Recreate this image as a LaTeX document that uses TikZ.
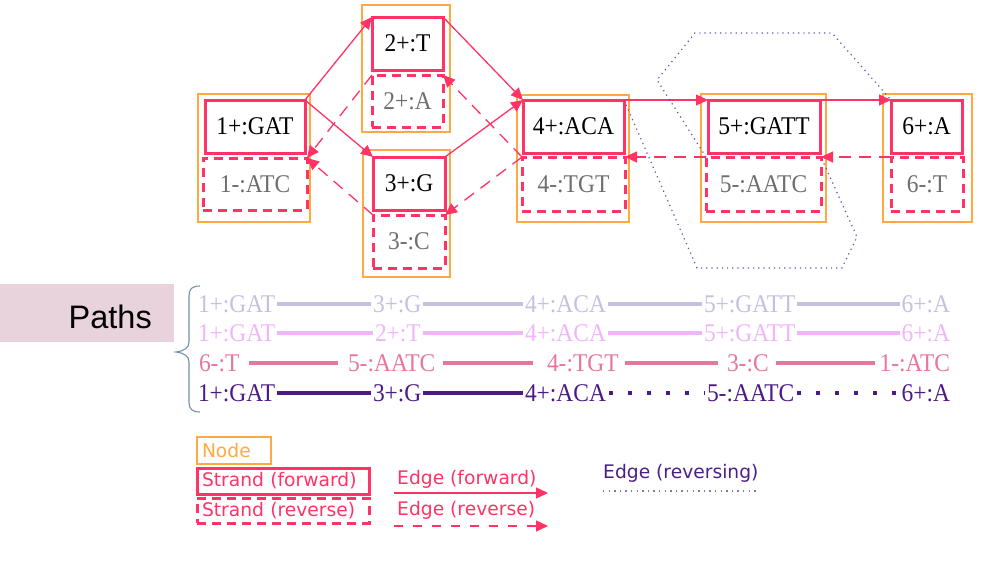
\documentclass[tikz,border=0pt]{standalone}
\usepackage{fontspec}
\setmainfont{Liberation Serif}[FakeStretch=0.92]
\newfontfamily\dejavu{DejaVu Sans}
\newfontfamily\arialf{Liberation Sans}
\usetikzlibrary{arrows.meta}
\definecolor{orng}{HTML}{FFA940}
\definecolor{pnk}{HTML}{FF3366}
\definecolor{grytxt}{HTML}{6E6E6E}
\definecolor{purp}{HTML}{6A4FB0}
\definecolor{purptxt}{HTML}{4B1F8A}
\definecolor{rowa}{HTML}{C5C0DF}
\definecolor{rowb}{HTML}{F0B5FA}
\definecolor{rowc}{HTML}{E8769A}
\definecolor{rowd}{HTML}{4B1A86}
\definecolor{pathbg}{HTML}{E8D3DC}
\definecolor{bracec}{HTML}{7090B0}
\begin{document}
\begin{tikzpicture}[x=1pt,y=-1pt,
  serif/.style={font=\fontsize{25.5}{30}\selectfont},
  leg/.style={font=\dejavu\fontsize{18.7}{22}\selectfont},
  grpbox/.style={draw=orng, line width=1.4pt, inner sep=0pt, outer sep=0pt},
  fwd/.style={draw=pnk, line width=3pt, inner sep=0pt, outer sep=0pt, serif, text=black},
  rev/.style={draw=pnk, line width=3pt, dash pattern=on 9pt off 6pt, inner sep=0pt, outer sep=0pt, serif, text=grytxt},
  fedge/.style={draw=pnk, line width=1.3pt, -{Triangle[length=12pt,width=11pt]}},
  redge/.style={fedge, dash pattern=on 12pt off 8pt},
  xedge/.style={draw=purp, line width=1.2pt, dash pattern=on 1.2pt off 4pt},
  rtxt/.style={serif, inner xsep=2pt, inner ysep=0pt, outer sep=0pt, anchor=base west},
  rtxtr/.style={serif, inner xsep=2pt, inner ysep=0pt, outer sep=0pt, anchor=base east},
  rline/.style={line width=4pt},
]
\useasboundingbox (0,0) rectangle (1002,562);

% group nodes
\node[grpbox, minimum width=112pt, minimum height=128pt] (n1) at (254,158) {};
\node[grpbox, minimum width=88pt, minimum height=127pt] (n2) at (406,68.5) {};
\node[grpbox, minimum width=87pt, minimum height=127pt] (n3) at (406.5,213.5) {};
\node[grpbox, minimum width=112pt, minimum height=127pt] (n4) at (573,158.5) {};
\node[grpbox, minimum width=125pt, minimum height=128pt] (n5) at (763.5,158) {};
\node[grpbox, minimum width=89pt, minimum height=128pt] (n6) at (927.5,158) {};

% strands
\node[fwd, minimum width=100pt, minimum height=53pt] (s1p) at (255,126.5) {1+:GAT};
\node[rev, minimum width=104pt, minimum height=52pt] (s1m) at (255,184) {1-:ATC};
\node[fwd, minimum width=71pt, minimum height=53pt] (s2p) at (407.5,43.5) {2+:T};
\node[rev, minimum width=71pt, minimum height=52pt] (s2m) at (407.5,101) {2+:A};
\node[fwd, minimum width=72pt, minimum height=53pt] (s3p) at (409,183.5) {3+:G};
\node[rev, minimum width=72pt, minimum height=53pt] (s3m) at (409,241.5) {3-:C};
\node[fwd, minimum width=101pt, minimum height=53pt] (s4p) at (573.5,126.5) {4+:ACA};
\node[rev, minimum width=103pt, minimum height=54pt] (s4m) at (573.5,184) {4-:TGT};
\node[fwd, minimum width=112pt, minimum height=53pt] (s5p) at (764,126.5) {5+:GATT};
\node[rev, minimum width=115pt, minimum height=54pt] (s5m) at (763.5,184) {5-:AATC};
\node[fwd, minimum width=71pt, minimum height=53pt] (s6p) at (926.5,126.5) {6+:A};
\node[rev, minimum width=72pt, minimum height=54pt] (s6m) at (927,184) {6-:T};

% forward edges
\draw[fedge] (s1p.north east) -- (s2p.north west);
\draw[fedge] (s1p.north east) -- (s3p.north west);
\draw[fedge] (s2p.north east) -- (s4p.north west);
\draw[fedge] (s3p.north east) -- (s4p.north west);
\draw[fedge] (s4p.north east) -- (s5p.north west);
\draw[fedge] (s5p.north east) -- (s6p.north west);

% reverse edges
\draw[redge] (s2m.north west) -- (s1m.north east);
\draw[redge] (s3m.north west) -- (s1m.north east);
\draw[redge] (s4m.north west) -- (s2m.north east);
\draw[redge] (s4m.north west) -- (s3m.north east);
\draw[redge] (s5m.north west) -- (s4m.north east);
\draw[redge] (s6m.north west) -- (s5m.north east);

% reversing edges
\draw[xedge] (s4p.north east) -- (697,268) -- (842,268) -- (857,237) -- (s5m.north east);
\draw[xedge] (s5m.north west) -- (657,80) -- (695,33) -- (832,33) -- (s6p.north west);

% Paths label
\node[fill=pathbg, minimum width=174pt, minimum height=58pt, inner sep=0pt, anchor=north west] (pbox) at (0,284) {};
\node[font=\arialf\fontsize{32.5}{36}\selectfont, inner sep=0pt, anchor=base east] (ptxt) at (152,328) {Paths};
\draw[bracec, line width=1.1pt] (200,286) .. controls (192,286) and (189,289) .. (189,296) -- (189,342)
  .. controls (189,348) and (184,351) .. (176,352) .. controls (184,353) and (189,356) .. (189,362)
  -- (189,402) .. controls (189,409) and (192,412) .. (200,412);

% row 1
\begin{scope}[text=rowa]
\node[rtxt] (a1) at (196,312) {1+:GAT};
\node[rtxt] (a2) at (371,312) {3+:G};
\node[rtxt] (a3) at (523,312) {4+:ACA};
\node[rtxt] (a4) at (702,312) {5+:GATT};
\node[rtxtr] (a5) at (952,312) {6+:A};
\end{scope}
\draw[rline, rowa] (a1.east) -- (a2.west);
\draw[rline, rowa] (a2.east) -- (a3.west);
\draw[rline, rowa] (a3.east) -- (a4.west);
\draw[rline, rowa] (a4.east) -- (a5.west);

% row 2
\begin{scope}[text=rowb]
\node[rtxt] (b1) at (196,341) {1+:GAT};
\node[rtxt] (b2) at (373,341) {2+:T};
\node[rtxt] (b3) at (523,341) {4+:ACA};
\node[rtxt] (b4) at (702,341) {5+:GATT};
\node[rtxtr] (b5) at (952,341) {6+:A};
\end{scope}
\draw[rline, rowb] (b1.east) -- (b2.west);
\draw[rline, rowb] (b2.east) -- (b3.west);
\draw[rline, rowb] (b3.east) -- (b4.west);
\draw[rline, rowb] (b4.east) -- (b5.west);

% row 3
\begin{scope}[text=rowc]
\node[rtxt] (c1) at (197,371) {6-:T};
\node[rtxt] (c2) at (346,371) {5-:AATC};
\node[rtxt] (c3) at (545,371) {4-:TGT};
\node[rtxt] (c4) at (725,371) {3-:C};
\node[rtxtr] (c5) at (952,371) {1-:ATC};
\end{scope}
\draw[rline, rowc, shorten <=8pt, shorten >=8pt] (c1.east) -- (c2.west);
\draw[rline, rowc, shorten <=6pt, shorten >=12pt] (c2.east) -- (c3.west);
\draw[rline, rowc, shorten <=4pt, shorten >=7pt] (c3.east) -- (c4.west);
\draw[rline, rowc, shorten <=5pt, shorten >=3pt] (c4.east) -- (c5.west);

% row 4
\begin{scope}[text=rowd]
\node[rtxt] (d1) at (196,401) {1+:GAT};
\node[rtxt] (d2) at (371,401) {3+:G};
\node[rtxt] (d3) at (523,401) {4+:ACA};
\node[rtxt] (d4) at (705,401) {5-:AATC};
\node[rtxtr] (d5) at (952,401) {6+:A};
\end{scope}
\draw[rline, rowd] (d1.east) -- (d2.west);
\draw[rline, rowd] (d2.east) -- (d3.west);
\draw[rline, rowd, dash pattern=on 4pt off 15pt, shorten <=1pt] (d3.east) -- (d4.west);
\draw[rline, rowd, dash pattern=on 4pt off 15pt, shorten <=1pt] (d4.east) -- (d5.west);

% legend
\node[leg, draw=orng, line width=1.3pt, text=orng, minimum height=27pt, text width=64pt, inner xsep=5pt, inner ysep=0pt, align=left] (lnode) at (234,450.5) {Node};
\node[leg, draw=pnk, line width=3pt, text=pnk, minimum height=26pt, text width=162pt, inner xsep=5pt, inner ysep=0pt, align=left] (lfwd) at (283,481) {Strand (forward)};
\node[leg, draw=pnk, line width=3pt, dash pattern=on 9pt off 6pt, text=pnk, minimum height=25pt, text width=162pt, inner xsep=5pt, inner ysep=0pt, align=left] (lrev) at (283,510.5) {Strand (reverse)};

\node[leg, text=pnk, inner sep=0pt, anchor=base west] (lef) at (397,484) {Edge (forward)};
\coordinate (lefa) at (394,493);
\coordinate (lefb) at (548,493);
\draw[fedge, line width=1.4pt] (lefa) -- (lefb);
\node[leg, text=pnk, inner sep=0pt, anchor=base west] (ler) at (397,515) {Edge (reverse)};
\coordinate (lera) at (394,526);
\coordinate (lerb) at (548,526);
\draw[fedge, line width=1.4pt, dash pattern=on 9pt off 10pt] (lera) -- (lerb);

\node[leg, text=purptxt, inner sep=0pt, anchor=base west] (lex) at (603,478) {Edge (reversing)};
\coordinate (lexa) at (603,491);
\coordinate (lexb) at (757,491);
\draw[xedge, draw=purp!80, line width=1.3pt, dash pattern=on 1.3pt off 4.3pt] (lexa) -- (lexb);
\end{tikzpicture}
\end{document}
